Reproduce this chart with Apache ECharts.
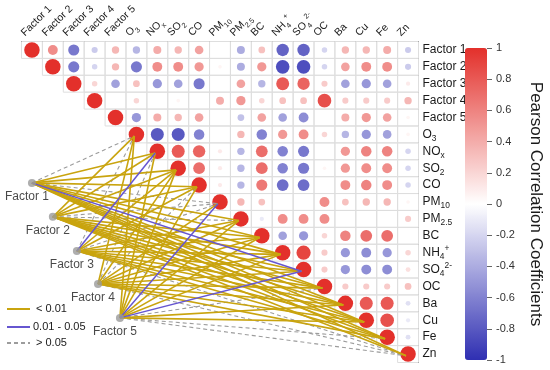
<!DOCTYPE html>
<html><head><meta charset="utf-8">
<script src="https://cdn.jsdelivr.net/npm/echarts@6/dist/echarts.min.js"></script>
<style>html,body{margin:0;padding:0;background:#fff}#c{width:550px;height:370px}</style>
</head><body><div id="c"></div>
<script>
// ---------- data ----------
const categories = ['Factor 1','Factor 2','Factor 3','Factor 4','Factor 5','O3','NOx','SO2','CO','PM10','PM2.5','BC','NH4+','SO42-','OC','Ba','Cu','Fe','Zn'];
// upper triangle of the Pearson matrix: row i lists columns i..18
const corrUpper = [
  [1, 0.55, -0.65, -0.25, 0.35, -0.35, 0.4, 0.35, 0.45, 0, -0.4, 0.3, -0.75, -0.75, -0.2, 0.35, 0.35, 0.4, -0.25],
  [1, -0.65, -0.2, 0.35, -0.65, 0.55, 0.55, 0.5, 0.05, -0.4, 0.5, -0.85, -0.85, -0.2, 0.45, 0.55, 0.55, -0.25],
  [1, 0.2, -0.45, 0.3, -0.5, -0.45, -0.65, 0, 0.45, -0.35, 0.8, 0.75, 0.25, -0.45, -0.5, -0.45, 0.1],
  [1, 0, 0.2, 0, 0.05, 0, 0.4, 0.5, 0.2, 0.3, 0.3, 0.85, 0.25, 0.25, 0.25, 0.35],
  [1, -0.5, 0.4, 0.35, 0.45, 0, -0.3, 0.45, -0.45, -0.55, 0, 0.4, 0.5, 0.45, 0.05],
  [1, -0.8, -0.8, -0.6, 0, 0.35, -0.6, 0.5, 0.55, 0.2, -0.35, -0.5, -0.45, 0.05],
  [1, 0.8, 0.75, 0.1, -0.35, 0.7, -0.6, -0.65, 0, 0.5, 0.6, 0.6, -0.2],
  [1, 0.7, 0.1, -0.35, 0.7, -0.6, -0.65, 0.05, 0.5, 0.55, 0.55, -0.2],
  [1, 0.1, -0.35, 0.65, -0.7, -0.7, 0, 0.55, 0.6, 0.55, -0.2],
  [1, 0.35, 0.3, 0, 0, 0.55, 0.3, 0.35, 0.35, 0.05],
  [1, -0.1, 0.55, 0.55, 0.55, 0, 0, 0, 0.25],
  [1, -0.45, -0.5, 0.2, 0.6, 0.7, 0.7, 0],
  [1, 0.9, 0.25, -0.5, -0.55, -0.5, 0.2],
  [1, 0.25, -0.5, -0.55, -0.55, 0.15],
  [1, 0.25, 0.25, 0.25, 0.3],
  [1, 0.8, 0.8, -0.15],
  [1, 0.85, -0.1],
  [1, -0.15],
  [1]
];
const factors = ['Factor 1','Factor 2','Factor 3','Factor 4','Factor 5'];
const firstPollutant = 5; // O3 .. Zn are the link targets
// significance class of each factor -> pollutant link (0: <0.01, 1: 0.01-0.05, 2: >0.05)
const linkClass = [
  [2,0,0,0,2,0,0,0,1,0,0,0,0,0],
  [0,0,0,0,2,2,0,0,0,0,0,0,0,0],
  [2,1,0,0,2,0,0,0,0,0,0,0,0,2],
  [0,2,0,2,0,0,0,0,0,0,0,0,0,2],
  [0,0,0,0,1,0,0,0,1,2,0,0,2,2]
];
const classLabels = ['< 0.01', '0.01 - 0.05', '> 0.05'];
const colorbarTitle = 'Pearson Correlation Coefficients';

// ---------- layout / style ----------
const G = {left: 21.5, top: 41.5, width: 397, height: 321};
const nodePos = [[0, 7.87], [1.0, 9.88], [2.15, 11.9], [3.16, 13.85], [4.21, 15.86]];
const classStyle = [
  {color: '#c9a40f', width: 1.6, type: 'solid'},
  {color: '#6656d0', width: 1.5, type: 'solid'},
  {color: '#9c9c9c', width: 1.1, type: [4, 3]}
];
const FONT = '"Liberation Sans", Arial, sans-serif';
const TXT = '#1a1a1a';

const markupMap = {
  'O3': '{n|O}{s|3}', 'NOx': '{n|NO}{s|x}', 'SO2': '{n|SO}{s|2}',
  'PM10': '{n|PM}{s|10}', 'PM2.5': '{n|PM}{s|2.5}',
  'NH4+': '{n|NH}{s|4}{p|+}', 'SO42-': '{n|SO}{s|4}{p|2-}'
};
function markup(name) { return markupMap[name] || ('{n|' + name + '}'); }
function rich(fs) {
  return {
    n: {fontSize: fs, lineHeight: 16, color: TXT, fontFamily: FONT},
    s: {fontSize: fs * 0.7, lineHeight: 9, verticalAlign: 'bottom', color: TXT, fontFamily: FONT},
    p: {fontSize: fs * 0.7, lineHeight: 9, verticalAlign: 'top', color: TXT, fontFamily: FONT}
  };
}

// ---------- build series data ----------
const cellData = [], circleData = [];
corrUpper.forEach((row, i) => {
  row.forEach((v, k) => {
    const j = i + k;
    cellData.push([j, i]);
    circleData.push([j, i, v]);
  });
});
const linkData = [];
[2, 0, 1].forEach(cls => {
  linkClass.forEach((row, f) => {
    row.forEach((c, k) => {
      if (c !== cls) return;
      const t = firstPollutant + k;
      linkData.push({
        coords: [nodePos[f], [t - 0.1, t + 0.1]],
        lineStyle: {color: classStyle[c].color, width: classStyle[c].width, type: classStyle[c].type, opacity: 1}
      });
    });
  });
});
const nodeData = factors.map((f, i) => ({name: f, value: nodePos[i]}));

const chart = echarts.init(document.getElementById('c'), null, {renderer: 'canvas'});
const legendGraphics = [];
const legendY = [309, 327, 343];
classLabels.forEach((lab, c) => {
  legendGraphics.push({type: 'line', shape: {x1: 7, y1: legendY[c], x2: 30, y2: legendY[c]},
    style: {stroke: classStyle[c].color, lineWidth: 2, lineDash: c === 2 ? [4, 3] : null}});
  legendGraphics.push({type: 'text', x: c === 1 ? 33 : 36, y: legendY[c],
    style: {text: lab, fill: TXT, font: '11px ' + FONT, verticalAlign: 'middle'}});
});

const option = {
  animation: false,
  backgroundColor: '#fff',
  textStyle: {fontFamily: FONT},
  grid: [
    Object.assign({outerBoundsMode: 'none', containLabel: false}, G),
    {outerBoundsMode: 'none', containLabel: false, left: G.left - 9, top: G.top, width: G.width, height: G.height},
    {outerBoundsMode: 'none', containLabel: false, left: 465, top: 48, width: 22, height: 312}
  ],
  xAxis: [
    {type: 'value', gridIndex: 0, min: -0.5, max: 18.5, position: 'top',
     axisLine: {show: true, onZero: false, lineStyle: {color: '#000', width: 1}},
     axisTick: {show: false}, axisLabel: {show: false}, splitLine: {show: false}},
    {type: 'category', gridIndex: 1, data: categories, position: 'top',
     axisLine: {show: false}, axisTick: {show: false}, splitLine: {show: false},
     axisLabel: {interval: 0, rotate: 45, margin: 7, align: 'left', verticalAlign: 'middle',
       formatter: markup, rich: rich(10.5)}},
    {type: 'category', gridIndex: 2, data: [''], show: false}
  ],
  yAxis: [
    {type: 'value', gridIndex: 0, min: -0.5, max: 18.5, inverse: true, position: 'right',
     axisLine: {show: true, onZero: false, lineStyle: {color: '#000', width: 1}},
     axisTick: {show: false}, axisLabel: {show: false}, splitLine: {show: false}},
    {type: 'category', gridIndex: 0, data: categories, inverse: true, position: 'right',
     axisLine: {show: false}, axisTick: {show: false}, splitLine: {show: false},
     axisLabel: {interval: 0, margin: 4, formatter: markup, rich: rich(12)}},
    {type: 'value', gridIndex: 1, show: false},
    {type: 'value', gridIndex: 2, min: -1, max: 1, interval: 0.2, position: 'right',
     axisLine: {show: false}, splitLine: {show: false},
     axisTick: {show: true, length: 5, lineStyle: {color: '#666'}},
     axisLabel: {margin: 9, fontSize: 11, color: '#333'},
     name: colorbarTitle, nameLocation: 'middle', nameRotate: -90, nameGap: 40,
     nameTextStyle: {fontSize: 17, color: TXT}}
  ],
  visualMap: {
    type: 'continuous', min: -1, max: 1, dimension: 2, seriesIndex: 1,
    calculable: false, hoverLink: false, orient: 'vertical', left: 465, top: 48, padding: 0,
    itemWidth: 22, itemHeight: 312, text: ['', ''], showLabel: false,
    indicatorSize: 0, indicatorIcon: 'none',
    inRange: {color: ['#2f2fb2', '#ffffff', '#e3302b']}
  },
  graphic: legendGraphics,
  series: [
    {type: 'custom', xAxisIndex: 0, yAxisIndex: 0, data: cellData, silent: true, z: 1,
     renderItem: (params, api) => {
       const c = api.coord([api.value(0), api.value(1)]);
       const s = api.size([1, 1]);
       return {type: 'rect', shape: {x: c[0] - s[0] / 2, y: c[1] - s[1] / 2, width: s[0], height: s[1]},
         style: {fill: 'none', stroke: '#dedede', lineWidth: 1}};
     }},
    {type: 'scatter', xAxisIndex: 0, yAxisIndex: 0, data: circleData, z: 2,
     symbol: 'circle',
     symbolSize: v => { const a = Math.abs(v[2]); return a < 0.02 ? 0 : 3 + 12.5 * a; },
     itemStyle: {opacity: 1}},
    {type: 'lines', coordinateSystem: 'cartesian2d', xAxisIndex: 0, yAxisIndex: 0, data: linkData, z: 3,
     polyline: false, symbol: 'none', lineStyle: {opacity: 1}},
    {type: 'scatter', xAxisIndex: 0, yAxisIndex: 0, data: nodeData, z: 4,
     symbolSize: 8, itemStyle: {color: '#9a9a9a'},
     label: {show: true, formatter: '{b}', position: 'bottom', distance: 4, offset: [-5, 0],
       fontSize: 12, color: TXT}}
  ]
};
chart.setOption(option);
</script></body></html>
